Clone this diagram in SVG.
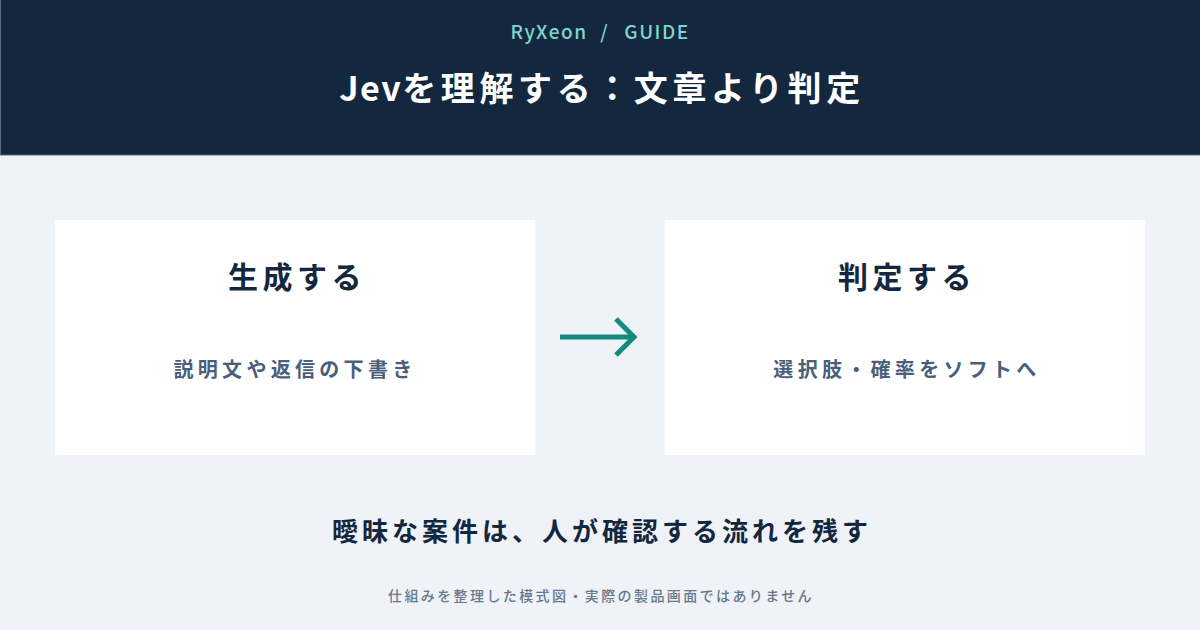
<svg xmlns="http://www.w3.org/2000/svg" width="1200" height="630" viewBox="0 0 1200 630">
<style>
text{font-family:"Noto Sans CJK JP","Noto Sans",sans-serif;text-anchor:middle}
.card{fill:#ffffff}
.ct{font-size:30px;font-weight:700;fill:#13273f;letter-spacing:4.5px}
.cs{font-size:20px;font-weight:700;fill:#4a607a;letter-spacing:4.3px}
</style>
<rect x="0" y="0" width="1200" height="630" fill="#eff2f7"/>
<g id="header">
<rect x="0.5" y="-1" width="1200" height="156" fill="#13273f" stroke="#5b6b80" stroke-width="1"/>
<text x="549" y="39" font-size="19" font-weight="500" fill="#7fd6cb" letter-spacing="1.5">RyXeon</text>
<text x="604" y="39" font-size="19" font-weight="500" fill="#7fd6cb">/</text>
<text x="657" y="39" font-size="19" font-weight="500" fill="#7fd6cb" letter-spacing="1.5">GUIDE</text>
<text x="602" y="101" font-size="34" font-weight="700" fill="#ffffff"><tspan letter-spacing="1.5">Jev</tspan><tspan letter-spacing="4.6">を理解する：文章より判定</tspan></text>
</g>
<g id="node-generate">
<rect class="card" x="55" y="220" width="480" height="235"/>
<text class="ct" x="297" y="288">生成する</text>
<text class="cs" x="295" y="377">説明文や返信の下書き</text>
</g>
<g id="node-judge">
<rect class="card" x="665" y="220" width="480" height="235"/>
<text class="ct" x="907" y="288">判定する</text>
<text class="cs" x="907" y="377">選択肢・確率をソフトへ</text>
</g>
<g id="connectors">
<line x1="560" y1="337" x2="634" y2="337" stroke="#138a7e" stroke-width="5"/>
<polyline points="616,319 634,337 616,355" fill="none" stroke="#138a7e" stroke-width="5"/>
</g>
<text x="602" y="541" font-size="26" font-weight="700" fill="#13273f" letter-spacing="4">曖昧な案件は、人が確認する流れを残す</text>
<text x="601" y="601" font-size="14" font-weight="500" fill="#66788c" letter-spacing="2.4">仕組みを整理した模式図・実際の製品画面ではありません</text>
</svg>
